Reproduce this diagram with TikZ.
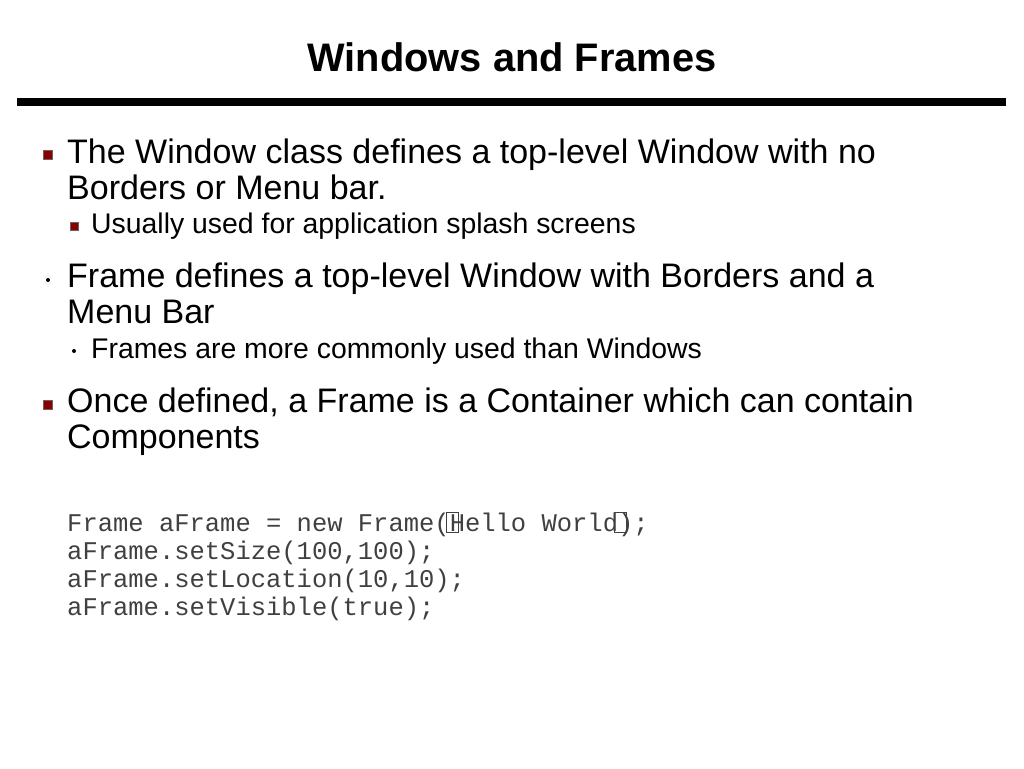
\documentclass[tikz,border=0pt]{standalone}
\usepackage{fontspec}
\setmainfont{Liberation Sans}
\setmonofont{Liberation Mono}
\begin{document}
\begin{tikzpicture}[x=1pt,y=-1pt,
  big/.style={anchor=base west,inner sep=0pt,font=\fontsize{34}{34}\selectfont},
  small/.style={anchor=base west,inner sep=0pt,font=\fontsize{28.4}{28.4}\selectfont},
  code/.style={anchor=base west,inner sep=0pt,font=\ttfamily\fontsize{25.5}{25.5}\selectfont,text=black!75},
  redbul/.style={draw=black!60,fill=red!55!black,minimum size=9pt,inner sep=0pt,line width=0.8pt},
  dotbul/.style={circle,fill=black,minimum size=4pt,inner sep=0pt}]
\useasboundingbox (0,0) rectangle (1024,768);
\node[anchor=center,font=\bfseries\fontsize{39.8}{40}\selectfont] (title) at (512,57) {Windows and Frames};
\draw[line width=8pt] (17,102) coordinate (r1) -- (1006,102) coordinate (r2);
\node[redbul] (b1) at (48,155) {};
\node[big] (t1) at (67,163) {The Window class defines a top-level Window with no};
\node[big] (t1b) at (67,199) {Borders or Menu bar.};
\node[redbul,minimum size=8pt] (b1a) at (74,226) {};
\node[small] (t1a) at (91,233) {Usually used for application splash screens};
\node[dotbul] (b2) at (48,280) {};
\node[big] (t2) at (67,287) {Frame defines a top-level Window with Borders and a};
\node[big] (t2b) at (67,323) {Menu Bar};
\node[dotbul] (b2a) at (74,351) {};
\node[small] (t2a) at (91,358) {Frames are more commonly used than Windows};
\node[redbul] (b3) at (48,405) {};
\node[big] (t3) at (67,412) {Once defined, a Frame is a Container which can contain};
\node[big] (t3b) at (67,448) {Components};
\newcommand{\mbx}{\rlap{\kern-4pt\raisebox{-2pt}{\tikz\draw[line width=0.8pt] (0,0) rectangle (12pt,20pt);}}}
\node[code] (c1) at (67,531) {Frame aFrame = new Frame(\mbx Hello World\mbx);};
\node[code] (c2) at (67,559) {aFrame.setSize(100,100);};
\node[code] (c3) at (67,587) {aFrame.setLocation(10,10);};
\node[code] (c4) at (67,615) {aFrame.setVisible(true);};
\end{tikzpicture}
\end{document}
